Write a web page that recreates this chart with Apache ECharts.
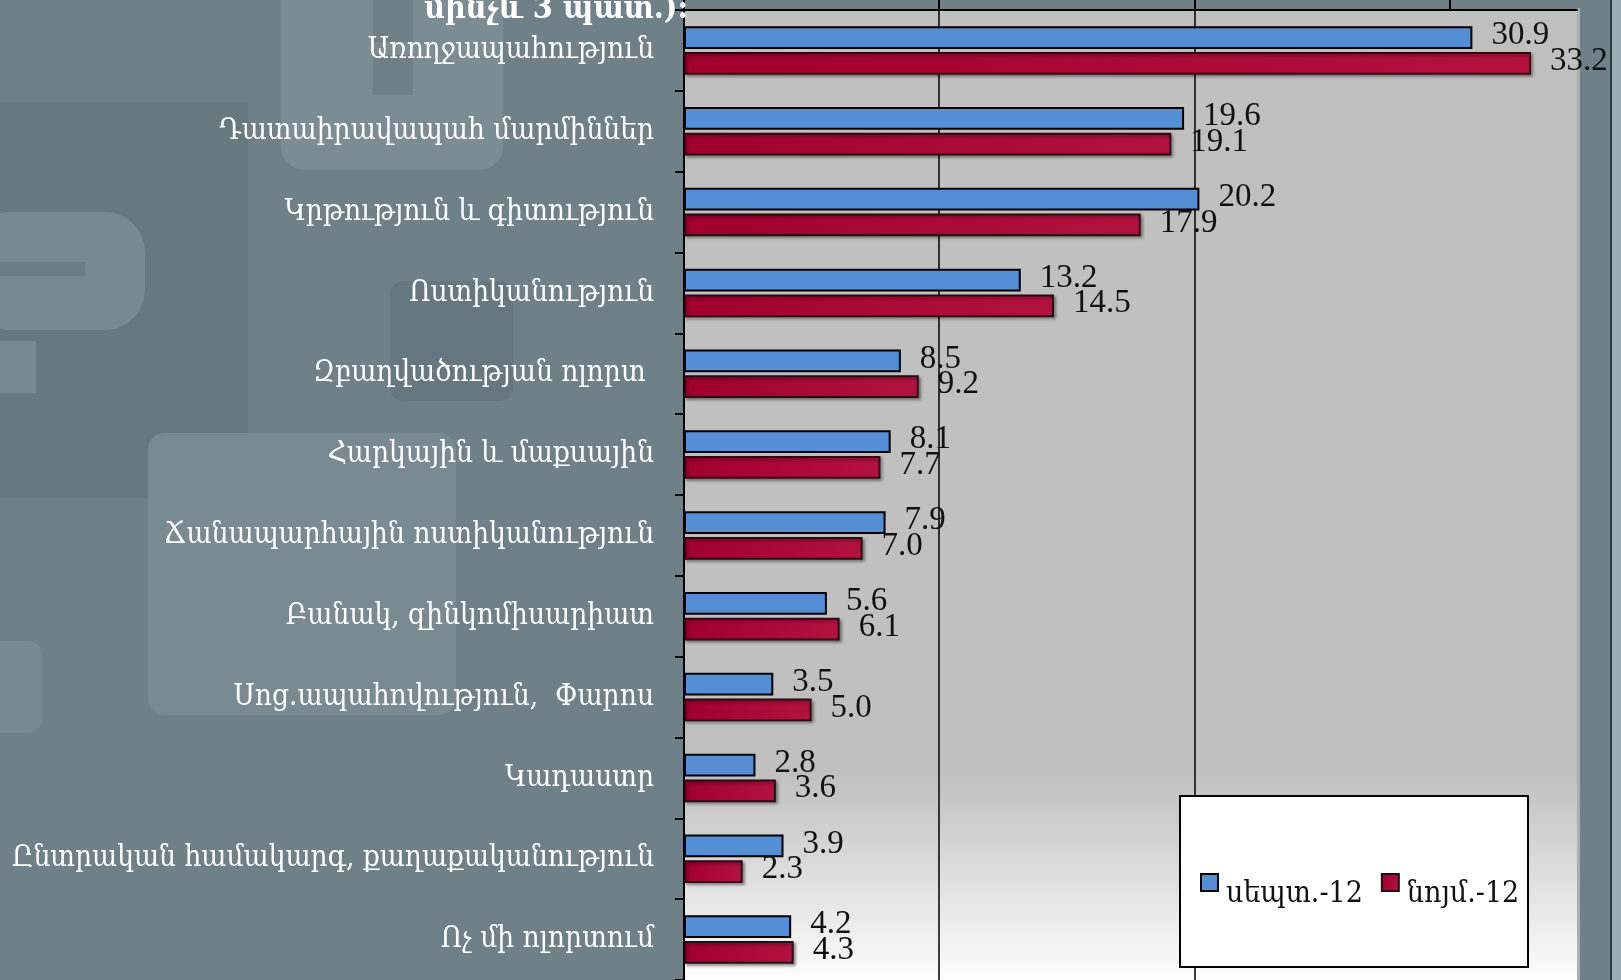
<!DOCTYPE html>
<html>
<head>
<meta charset="utf-8">
<script src="https://cdn.jsdelivr.net/npm/echarts@6/dist/echarts.min.js"></script>
<style>
  html, body { margin: 0; padding: 0; background: #708088; }
  #chart { width: 1621px; height: 980px; }
</style>
</head>
<body>
<div id="chart"></div>
<script>
// Survey areas (top to bottom) and shares of respondents, %
const categories = [
  'Առողջապահություն',
  'Դատաիրավապահ մարմիններ',
  'Կրթություն և գիտություն',
  'Ոստիկանություն',
  'Զբաղվածության ոլորտ ',
  'Հարկային և մաքսային',
  'Ճանապարհային ոստիկանություն',
  'Բանակ, զինկոմիսարիատ',
  'Սոց.ապահովություն,  Փարոս',
  'Կադաստր',
  'Ընտրական համակարգ, քաղաքականություն',
  'Ոչ մի ոլորտում'
];
const seriesNames = ['սեպտ.-12', 'նոյմ.-12'];
const septValues = [30.9, 19.6, 20.2, 13.2, 8.5, 8.1, 7.9, 5.6, 3.5, 2.8, 3.9, 4.2];
const novValues  = [33.2, 19.1, 17.9, 14.5, 9.2, 7.7, 7.0, 6.1, 5.0, 3.6, 2.3, 4.3];
const valueAxisMin = 0;
const valueAxisMax = 35;
const valueAxisStep = 10;
const valueAxisTicks = [0, 10, 20, 30];
const titleTail = 'մինչև 3 պատ.):';

const ARM = '"DejaVu Serif Condensed", "DejaVu Serif", serif';
const NUM = '"Liberation Serif", "DejaVu Serif", serif';
const SLATE = '#708088';

const chart = echarts.init(document.getElementById('chart'), null, { renderer: 'canvas' });

const valueLabel = {
  show: true,
  position: 'right',
  distance: 19,
  offset: [0, -2],
  color: '#111',
  fontFamily: NUM,
  fontSize: 33,
  formatter: p => p.value.toFixed(1)
};

chart.setOption({
  backgroundColor: SLATE,
  animation: false,
  graphic: [
    // slide template shapes behind the chart
    { type: 'rect', z: -10, shape: { x: 0, y: 103, width: 248, height: 395 }, style: { fill: '#68787f' } },
    { type: 'rect', z: -10, shape: { x: 281, y: -20, width: 222, height: 190, r: 24 }, style: { fill: '#7b8c94' } },
    { type: 'rect', z: -10, shape: { x: 373, y: 0, width: 40, height: 42 }, style: { fill: '#6e7f87' } },
    { type: 'rect', z: -10, shape: { x: 373, y: 55, width: 40, height: 40 }, style: { fill: '#6e7f87' } },
    { type: 'rect', z: -10, shape: { x: -30, y: 212, width: 175, height: 118, r: 40 }, style: { fill: '#788991' } },
    { type: 'rect', z: -10, shape: { x: 0, y: 262, width: 85, height: 14 }, style: { fill: '#6b7c84' } },
    { type: 'rect', z: -10, shape: { x: 0, y: 341, width: 36, height: 52 }, style: { fill: '#788991' } },
    { type: 'rect', z: -10, shape: { x: 390, y: 281, width: 123, height: 120, r: 14 }, style: { fill: '#67777f' } },
    { type: 'rect', z: -10, shape: { x: 148, y: 433, width: 308, height: 282, r: 16 }, style: { fill: '#798a92' } },
    { type: 'rect', z: -10, shape: { x: -20, y: 641, width: 62, height: 92, r: 14 }, style: { fill: '#788991' } },
    // right-hand slide edge
    { type: 'rect', z: -10, shape: { x: 1577, y: 0, width: 3, height: 980 }, style: { fill: '#a7b0b4' } },
    { type: 'rect', z: -10, shape: { x: 1610, y: 0, width: 2, height: 980 }, style: { fill: '#2f3a3f' } },
    { type: 'rect', z: -10, shape: { x: 1612, y: 0, width: 9, height: 980 }, style: { fill: '#9aaeb6' } },
    // keep the strip above the plot's right end clear
    { type: 'rect', z: 50, shape: { x: 1574, y: 0, width: 6, height: 8 }, style: { fill: SLATE } },
    // tail of the slide title
    { type: 'text', z: 20, x: 688, y: 26, style: {
        text: titleTail, fill: '#ffffff', fontFamily: ARM, fontWeight: 'bold', fontSize: 32,
        align: 'right', verticalAlign: 'bottom' } },
    // legend frame
    { type: 'rect', z: 3, shape: { x: 1180, y: 796, width: 348, height: 171 },
      style: { fill: '#ffffff', stroke: '#000', lineWidth: 2 } }
  ],
  legend: {
    z: 10,
    left: 1195,
    top: 868,
    icon: 'rect',
    itemWidth: 17,
    itemHeight: 17,
    itemGap: 18,
    formatter: name => '{t|' + name + '}',
    textStyle: {
      fontFamily: ARM, fontSize: 30, color: '#111',
      rich: { t: { fontFamily: ARM, fontSize: 30, color: '#111', padding: [24, 0, 0, 3] } }
    },
    data: seriesNames
  },
  grid: {
    left: 684,
    right: 44,
    top: 10,
    bottom: -6,
    show: true,
    borderWidth: 0,
    backgroundColor: new echarts.graphic.LinearGradient(0, 0, 0, 1, [
      { offset: 0, color: '#c0c0c0' },
      { offset: 0.79, color: '#c0c0c0' },
      { offset: 1, color: '#fdfdfd' }
    ])
  },
  xAxis: {
    type: 'value',
    position: 'top',
    min: valueAxisMin,
    max: valueAxisMax,
    interval: valueAxisStep,
    axisLine: { show: true, lineStyle: { color: '#000', width: 2 } },
    axisTick: { show: true, inside: false, length: 12, customValues: valueAxisTicks,
      lineStyle: { color: '#000', width: 2 } },
    axisLabel: { show: false },
    splitLine: { show: true, showMinLine: false, showMaxLine: false, lineStyle: { color: '#000', width: 1.5 } }
  },
  yAxis: {
    type: 'category',
    inverse: true,
    data: categories,
    axisLine: { show: true, lineStyle: { color: '#000', width: 2 } },
    axisTick: { show: true, length: 9, lineStyle: { color: '#000', width: 2 } },
    axisLabel: { color: '#ffffff', fontFamily: ARM, fontSize: 29.5, margin: 30 },
    splitLine: { show: false }
  },
  series: [
    {
      name: seriesNames[0],
      type: 'bar',
      data: septValues,
      barCategoryGap: '40%',
      barGap: '13%',
      itemStyle: { color: '#558ed5', borderColor: '#000', borderWidth: 2 },
      label: valueLabel
    },
    {
      name: seriesNames[1],
      type: 'bar',
      data: novValues,
      barCategoryGap: '40%',
      barGap: '13%',
      itemStyle: {
        color: new echarts.graphic.LinearGradient(0, 0, 1, 0, [
          { offset: 0, color: '#a1002f' },
          { offset: 1, color: '#b3123f' }
        ]),
        borderColor: '#2a0a12',
        borderWidth: 2,
        shadowColor: 'rgba(0,0,0,0.35)',
        shadowBlur: 3,
        shadowOffsetX: 2,
        shadowOffsetY: 2
      },
      label: valueLabel
    }
  ]
});
</script>
</body>
</html>
